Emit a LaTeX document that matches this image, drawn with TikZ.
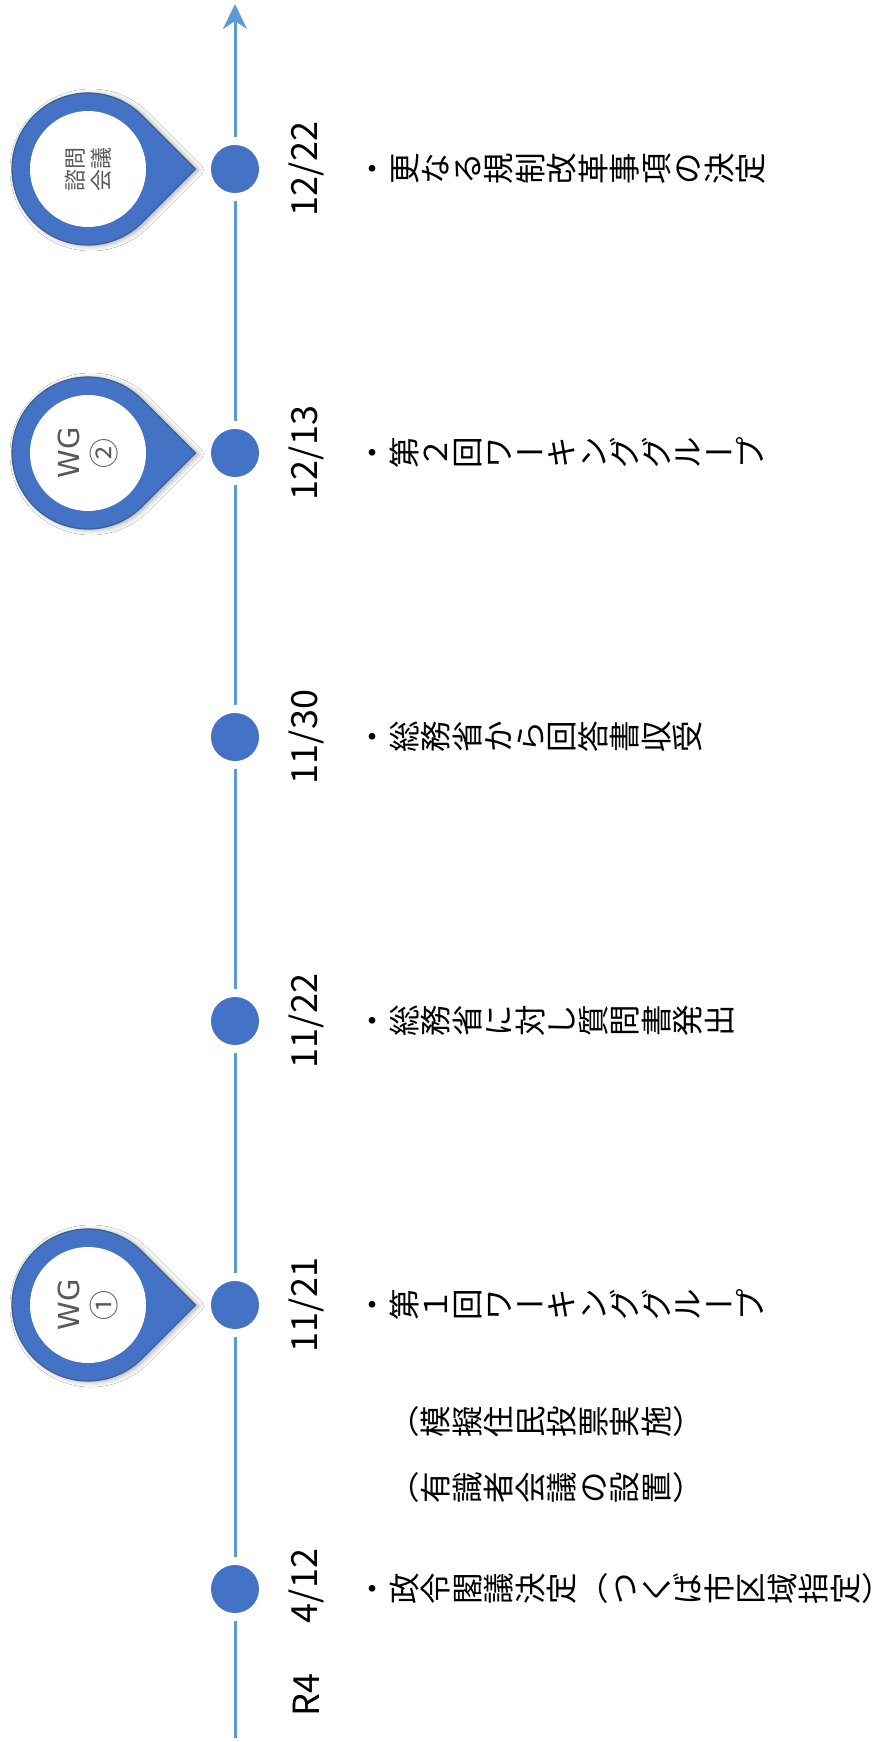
\documentclass[tikz,border=0pt]{standalone}
\usepackage{fontspec}
\usepackage{graphicx}
\newfontfamily\jp{Noto Sans CJK JP}
\newfontfamily\dv{DejaVu Sans}
\usetikzlibrary{arrows.meta,shadows.blur}
\definecolor{axisblue}{HTML}{5B9BD5}
\definecolor{dotblue}{HTML}{4472C4}
\definecolor{pinedge}{HTML}{3A5F95}
\definecolor{pintext}{HTML}{595959}
% vertical-writing (tategaki) text rotated by 90 degrees: each CJK glyph is turned
\newcommand\tflat[1]{\raisebox{0.12em}{\smash{#1}\rule[-0.12em]{0pt}{1em}}}
\newcommand\tclose[1]{\raisebox{0.12em}{\makebox[0.5em][l]{\smash{#1}}\rule[-0.12em]{0pt}{1em}}}
\newcommand\trot[1]{\rotatebox{90}{\makebox[1em]{\smash{#1}\rule[-0.12em]{0pt}{1em}}}}
\makeatletter
\def\tate@end{\tate@end}
\def\tate@char#1{%
  \ifnum`#1=`ー \tflat{#1}\else
  \ifnum`#1=`（ \tflat{#1}\else
  \ifnum`#1=`） \tclose{#1}\else
  \ifnum`#1<256 \tflat{#1}\else
  \trot{#1}\fi\fi\fi\fi}
\def\tate@loop#1{\ifx#1\tate@end\else\tate@char{#1}\expandafter\tate@loop\fi}
\newcommand\tate[1]{\tate@loop#1\tate@end}
\makeatother
\tikzset{
  axisline/.style={draw=axisblue, line width=3, -{Stealth[length=25,width=24]}},
  dot/.style={circle, inner sep=0, minimum size=48, fill=dotblue,
    preaction={draw=white, line width=16}},
  pinshape/.style={fill=dotblue, draw=pinedge, line width=1.2,
    blur shadow={shadow xshift=3pt, shadow yshift=-1pt, shadow blur radius=5pt, shadow opacity=35}},
  pinhole/.style={fill=white},
  pinlabel/.style={rotate=90, align=center, inner sep=0, text=pintext,
    font=\jp\fontsize{22}{26}\selectfont},
  wglabel/.style={pinlabel, font=\fontsize{29}{36}\selectfont},
  datelabel/.style={rotate=90, inner sep=0, font=\jp\fontsize{36}{40}\selectfont},
  desc/.style={anchor=west, inner sep=0, font=\jp\fontsize{31.5}{38}\selectfont},
}
\begin{document}
\begin{tikzpicture}[x=1pt, y=-1pt]
\fill[white] (0,0) rectangle (882,1742);
\useasboundingbox (0,0) rectangle (882,1742);
% axis
\coordinate (abot) at (235,1738);
\coordinate (atop) at (235,4);
\draw[axisline] (abot) -- (atop);
% dots
\node[dot] (d1) at (235,169) {};
\node[dot] (d2) at (235,453) {};
\node[dot] (d3) at (235,737) {};
\node[dot] (d4) at (235,1021) {};
\node[dot] (d5) at (235,1305) {};
\node[dot] (d6) at (235,1589) {};
% pins
\coordinate (p1) at (88,169);
\coordinate (p2) at (88,453);
\coordinate (p3) at (88,1305);
\path[pinshape] (p1) ++(45:76) arc[start angle=45,end angle=315,radius=76] -- ++(53.74,53.74) -- cycle;
\path[pinshape] (p2) ++(45:76) arc[start angle=45,end angle=315,radius=76] -- ++(53.74,53.74) -- cycle;
\path[pinshape] (p3) ++(45:76) arc[start angle=45,end angle=315,radius=76] -- ++(53.74,53.74) -- cycle;
\fill[pinhole] (p1) circle[radius=58];
\fill[pinhole] (p2) circle[radius=58];
\fill[pinhole] (p3) circle[radius=58];
\node[pinlabel] (l1) at (p1) {諮問\\会議};
\node[wglabel] (l2) at (p2) {{\dv WG}\\{\jp\fontsize{30}{36}\selectfont ②}};
\node[wglabel] (l3) at (p3) {{\dv WG}\\{\jp\fontsize{30}{36}\selectfont ①}};
% dates
\node[datelabel] (t1) at (306,169) {12/22};
\node[datelabel] (t2) at (306,453) {12/13};
\node[datelabel] (t3) at (306,737) {11/30};
\node[datelabel] (t4) at (306,1021) {11/22};
\node[datelabel] (t5) at (306,1305) {11/21};
\node[datelabel] (t6) at (306,1586) {4/12};
\node[datelabel] (t0) at (306,1695) {R4};
% descriptions
\node[desc] (e1) at (357,169) {\tate{・更なる規制改革事項の決定}};
\node[desc] (e2) at (357,453) {\tate{・第２回ワーキンググループ}};
\node[desc] (e3) at (357,737) {\tate{・総務省から回答書収受}};
\node[desc] (e4) at (357,1021) {\tate{・総務省に対し質問書発出}};
\node[desc] (e5) at (357,1305) {\tate{・第１回ワーキンググループ}};
\node[desc] (e6c) at (357,1422) {\tate{　（模擬住民投票実施）}};
\node[desc] (e6b) at (357,1488) {\tate{　（有識者会議の設置）}};
\node[desc] (e6) at (357,1589) {\tate{・政令閣議決定（つくば市区域指定）}};
\end{tikzpicture}
\end{document}
